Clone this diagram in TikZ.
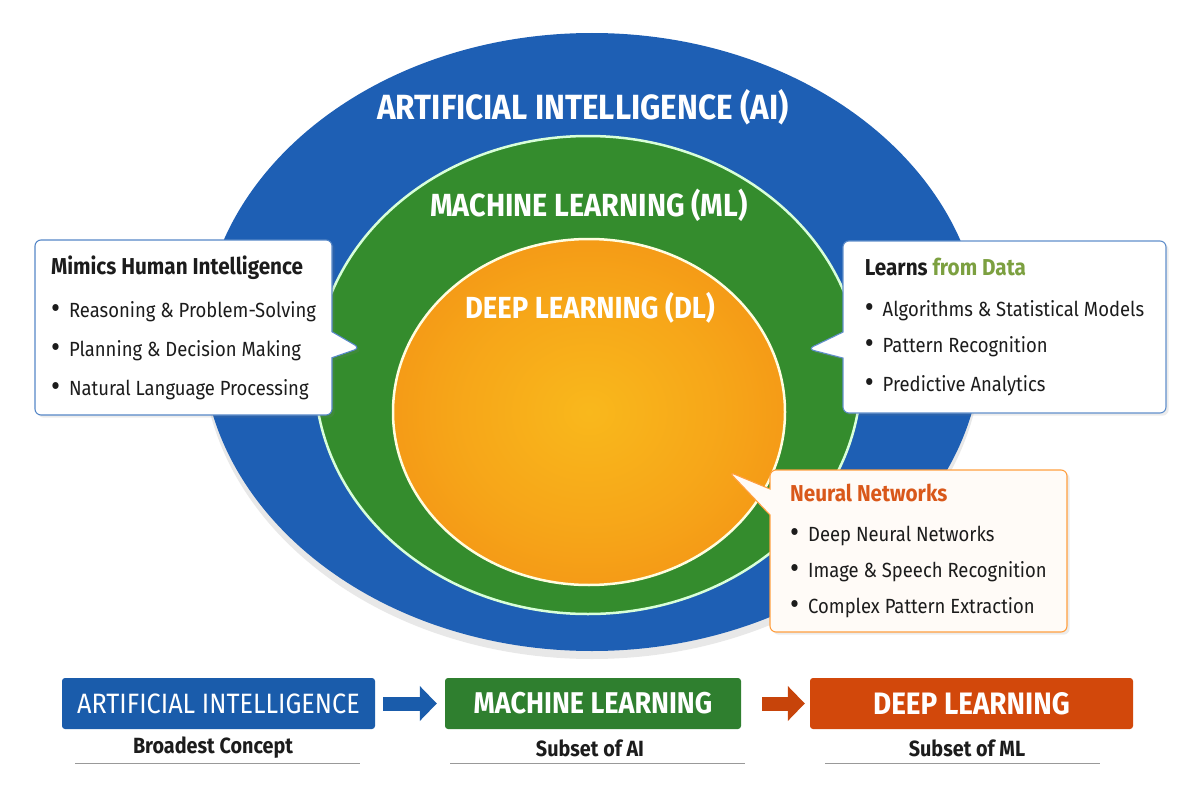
\documentclass[tikz,border=0pt]{standalone}
\usepackage{fontspec}
\usepackage{graphicx}
\setmainfont{Fira Sans}[FakeStretch=0.9]
\usetikzlibrary{shapes.geometric,shapes.callouts,shadows,arrows.meta}

\definecolor{aiblue}{HTML}{1E5FB4}
\definecolor{mlgreen}{HTML}{348C2D}
\definecolor{dlcore}{HTML}{F9B81C}
\definecolor{dlrim}{HTML}{F07810}
\definecolor{tagblue}{HTML}{1A5CAB}
\definecolor{taggreen}{HTML}{2F7F2F}
\definecolor{tagred}{HTML}{D2480B}
\definecolor{ink}{HTML}{1C1C1C}
\definecolor{olive}{HTML}{7CA040}
\definecolor{nnred}{HTML}{D9581A}
\pgfdeclareradialshading{dlglow}{\pgfpoint{0bp}{0bp}}{color(0bp)=(dlcore); color(18bp)=(dlcore!70!dlrim); color(50bp)=(dlrim)}
\newcommand{\itm}{\raisebox{-1pt}{\scalebox{1.5}{\textbullet}}\hspace{9pt}}

\begin{document}
\begin{tikzpicture}[x=1pt, y=-1pt,
    ring/.style={ellipse, inner sep=0pt},
    head/.style={text=white, font=\bfseries\fontsize{33}{38}\selectfont},
    note/.style={rectangle callout, rounded corners=6pt, fill=white, line width=1.1pt,
      align=left, callout pointer width=26pt, text=ink,
      font=\fontsize{20.5}{39}\selectfont, drop shadow={opacity=0.15}},
    tag/.style={rounded corners=3pt, minimum height=51pt, text=white,
      font=\fontsize{28}{32}\selectfont},
    sub/.style={text=ink, font=\bfseries\fontsize{22}{26}\selectfont},
    bar/.style={line width=14pt, -{Triangle[length=17pt,width=34pt]}},
    rule/.style={draw=gray!80, line width=0.9pt}]
  \useasboundingbox (0,0) rectangle (1200,800);

  \node[ring, fill=aiblue, minimum width=780pt, minimum height=618pt,
    drop shadow={opacity=0.18, shadow xshift=0pt, shadow yshift=-8pt}] (ai) at (592,342) {};
  \node[ring, fill=mlgreen, draw=green!15!white, line width=2.5pt,
    minimum width=546pt, minimum height=478pt] (ml) at (588,375) {};
  \node[ring, shading=dlglow, draw=yellow!12!white, line width=2.5pt,
    minimum width=392pt, minimum height=346pt] (dl) at (589,412) {};

  \node[head, font=\bfseries\fontsize{35}{40}\selectfont] (aititle) at (583,107) {ARTIFICIAL INTELLIGENCE (AI)};
  \node[head, font=\bfseries\fontsize{32}{38}\selectfont] (mltitle) at (589,205) {MACHINE LEARNING (ML)};
  \node[head, font=\bfseries\fontsize{30.5}{36}\selectfont] (dltitle) at (590,308) {DEEP LEARNING (DL)};

  \node[note, draw=aiblue!75, minimum width=297pt, minimum height=175pt,
    callout absolute pointer={(360,348)}] (ainote) at (183.5,327.5)
    {\textbf{\fontsize{23}{26}\selectfont Mimics Human Intelligence}\\[4pt]
     \itm Reasoning \& Problem-Solving\\
     \itm Planning \& Decision Making\\
     \itm Natural Language Processing};
  \node[note, draw=aiblue!70, minimum width=323pt, minimum height=172pt,
    callout absolute pointer={(808,349)}] (mlnote) at (1004.5,327)
    {\textbf{\fontsize{23}{26}\selectfont Learns \textcolor{olive}{from Data}}\\[2pt]
     \itm Algorithms \& Statistical Models\\[-3pt]
     \itm Pattern Recognition\\
     \itm Predictive Analytics};
  \node[note, draw=orange!75, fill=orange!3, minimum width=297pt, minimum height=162pt,
    font=\fontsize{20.5}{36}\selectfont,
    callout absolute pointer={(729,472)}] (dlnote) at (918.5,551)
    {\textbf{\fontsize{23}{26}\selectfont\textcolor{nnred}{Neural Networks}}\\[4pt]
     \itm Deep Neural Networks\\
     \itm Image \& Speech Recognition\\
     \itm Complex Pattern Extraction};

  \node[tag, fill=tagblue, minimum width=313pt] (aibox) at (218.5,703.5) {ARTIFICIAL INTELLIGENCE};
  \node[tag, fill=taggreen, minimum width=296pt, font=\bfseries\fontsize{30}{34}\selectfont] (mlbox) at (593,703.5) {MACHINE LEARNING};
  \node[tag, fill=tagred, minimum width=323pt, font=\bfseries\fontsize{31}{34}\selectfont] (dlbox) at (971.5,703.5) {DEEP LEARNING};

  \draw[bar, tagblue, shorten <=8pt, shorten >=8pt] (aibox) -- (mlbox);
  \draw[bar, tagred!95!black, shorten <=21pt, shorten >=5pt] (mlbox) -- (dlbox);

  \node[sub] (aisub) at (213,748) {Broadest Concept};
  \node[sub] (mlsub) at (590,748) {Subset of AI};
  \node[sub] (dlsub) at (967,748) {Subset of ML};
  \draw[rule] (75,763) -- (360,763);
  \draw[rule] (450,763) -- (745,763);
  \draw[rule] (825,763) -- (1100,763);
\end{tikzpicture}
\end{document}
